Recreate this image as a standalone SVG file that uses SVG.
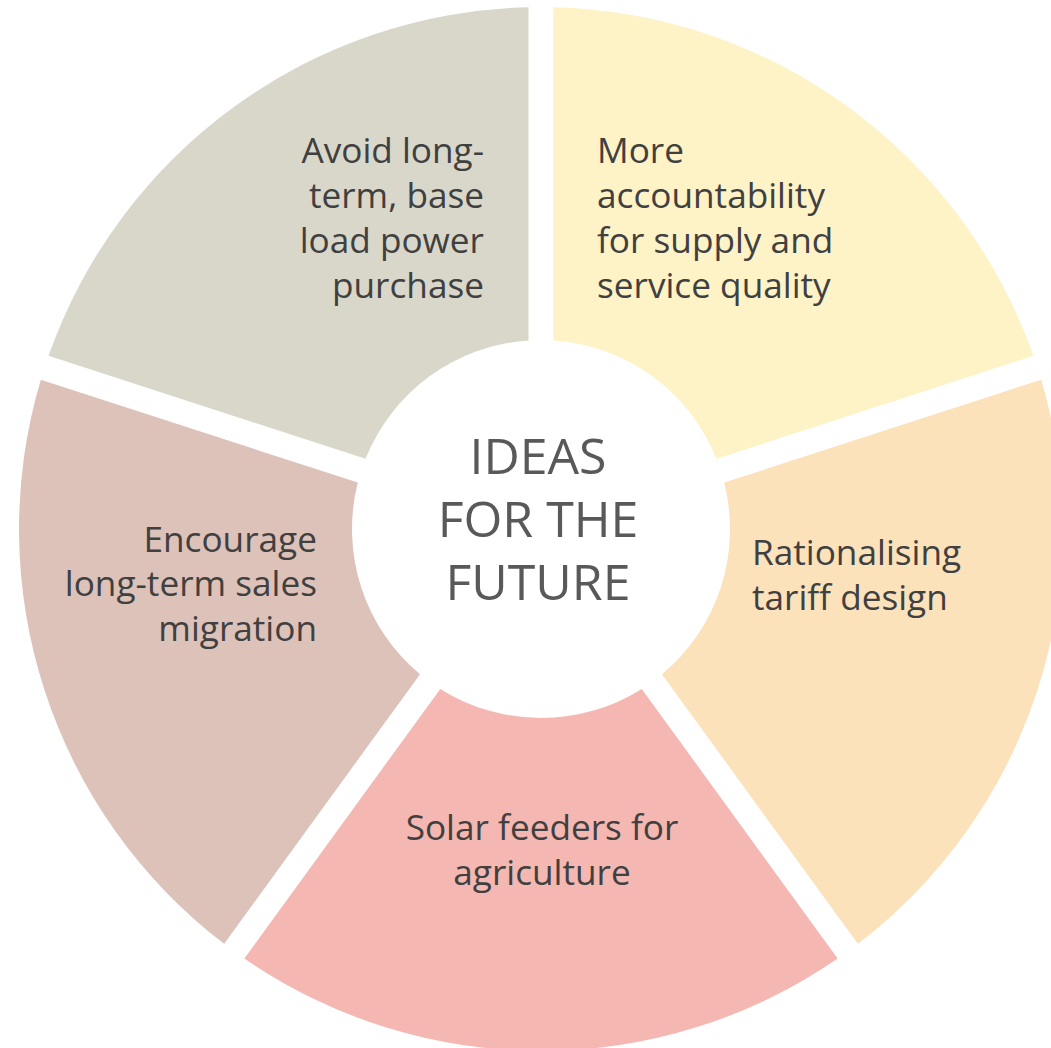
<svg xmlns="http://www.w3.org/2000/svg" width="1051" height="1048" viewBox="0 0 1051 1048">
  <style>
    .label { font-family: "Open Sans", "Noto Sans", "Liberation Sans", sans-serif; font-size: 35.2px; fill: #404040; }
    .hub { font-family: "Open Sans", "Noto Sans", "Liberation Sans", sans-serif; font-size: 50px; fill: #595959; text-anchor: middle; }
    .start { text-anchor: start; }
    .end { text-anchor: end; }
    .mid { text-anchor: middle; }
  </style>
  <rect width="1051" height="1048" fill="#ffffff"/>

  <!-- ring segments: centre (541,529), outer r 522, inner r 189, 25px gaps -->
  <g id="segment-accountability">
    <path d="M553.5 340.41 L553.5 7.15 A522 522 0 0 1 1033.45 355.85 L716.49 458.84 A189 189 0 0 0 553.5 340.41 Z" fill="#FEF2C7"/>
    <text class="label start" x="597" y="163">More</text>
    <text class="label start" x="597" y="208">accountability</text>
    <text class="label start" x="597" y="253">for supply and</text>
    <text class="label start" x="597" y="298">service quality</text>
  </g>

  <g id="segment-tariff">
    <path d="M724.22 482.61 L1041.17 379.63 A522 522 0 0 1 857.85 943.84 L661.96 674.22 A189 189 0 0 0 724.22 482.61 Z" fill="#FCE2BB"/>
    <text class="label start" x="752" y="565">Rationalising</text>
    <text class="label start" x="752" y="610">tariff design</text>
  </g>

  <g id="segment-solar">
    <path d="M641.74 688.92 L837.62 958.53 A522 522 0 0 1 244.38 958.53 L440.27 688.92 A189 189 0 0 0 641.74 688.92 Z" fill="#F5B7B2"/>
    <text class="label mid" x="542" y="840">Solar feeders for</text>
    <text class="label mid" x="542" y="885">agriculture</text>
  </g>

  <g id="segment-migration">
    <path d="M420.04 674.22 L224.15 943.84 A522 522 0 0 1 40.83 379.63 L357.78 482.61 A189 189 0 0 0 420.04 674.22 Z" fill="#DDC2B9"/>
    <text class="label end" x="317" y="552">Encourage</text>
    <text class="label end" x="317" y="596">long-term sales</text>
    <text class="label end" x="317" y="641">migration</text>
  </g>

  <g id="segment-baseload">
    <path d="M365.51 458.84 L48.55 355.85 A522 522 0 0 1 528.5 7.15 L528.5 340.41 A189 189 0 0 0 365.51 458.84 Z" fill="#D9D7CA"/>
    <text class="label end" x="484" y="163">Avoid long-</text>
    <text class="label end" x="484" y="208">term, base</text>
    <text class="label end" x="484" y="253">load power</text>
    <text class="label end" x="484" y="298">purchase</text>
  </g>

  <g id="hub">
    <text class="hub" x="538" y="474">IDEAS</text>
    <text class="hub" x="538" y="537">FOR THE</text>
    <text class="hub" x="538" y="600">FUTURE</text>
  </g>
</svg>
